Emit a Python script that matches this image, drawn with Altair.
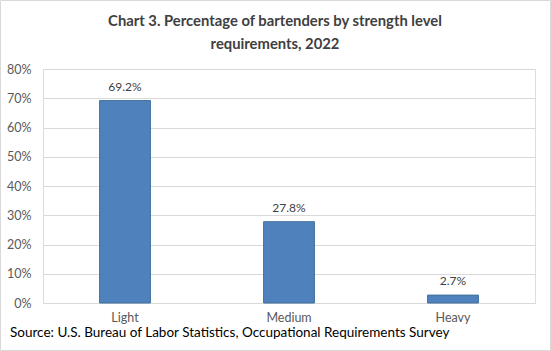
import altair as alt
import pandas as pd

categories = ["Light", "Medium", "Heavy"]
values = [69.2, 27.8, 2.7]
labels = ["69.2%", "27.8%", "2.7%"]
title_lines = ["Chart 3. Percentage of bartenders by strength level", "requirements, 2022"]
source_text = "Source: U.S. Bureau of Labor Statistics, Occupational Requirements Survey"

df = pd.DataFrame({"cat": categories, "val": [v / 100 for v in values], "lab": labels})
FONT = "Lato"

xenc = alt.X("cat:N", sort=categories, title=None,
             scale=alt.Scale(paddingInner=0.69, paddingOuter=0.345),
             axis=alt.Axis(labelAngle=0, labelFont=FONT, labelFontSize=12.5, labelColor="#595959",
                           ticks=False, domainColor="#d9d9d9", labelPadding=8))
yenc = alt.Y("val:Q", title=None,
             scale=alt.Scale(domain=[0, 0.8]),
             axis=alt.Axis(format=".0%", values=[i / 10 for i in range(9)], labelFont=FONT,
                           labelFontSize=12.5, labelColor="#595959", ticks=False, domain=False,
                           gridColor="#d9d9d9", labelPadding=12, labelOverlap=False))

base = alt.Chart(df)
bars = base.mark_bar(color="#4f81bd", stroke="#41719c", strokeWidth=1).encode(x=xenc, y=yenc)
text = base.mark_text(font=FONT, fontSize=12, color="#404040", baseline="bottom", dy=-7).encode(
    x=xenc, y=yenc, text="lab:N"
)
source = alt.Chart(pd.DataFrame({"t": [source_text]})).mark_text(
    font=FONT, fontSize=13.5, color="#000000", align="left", baseline="middle"
).encode(x=alt.value(-33), y=alt.value(264), text="t:N")

def title_line(s, ypix):
    return alt.Chart(pd.DataFrame({"t": [s]})).mark_text(
        font=FONT, fontSize=14.8, fontWeight="bold", color="#404040", align="center", baseline="middle"
    ).encode(x=alt.value(232), y=alt.value(ypix), text="t:N")

t1 = title_line(title_lines[0], -47)
t2 = title_line(title_lines[1], -24)
border = alt.Chart(pd.DataFrame({"a": [0]})).mark_rect(fill=None, stroke="#d9d9d9", strokeWidth=1).encode(
    x=alt.value(-42.5), x2=alt.value(507.5), y=alt.value(-68.5), y2=alt.value(281.5)
)

chart = alt.layer(bars, text, source, t1, t2, border).properties(
    width=492, height=234,
    autosize=alt.AutoSizeParams(type="none"),
    padding={"left": 43, "top": 69, "right": 16, "bottom": 48},
).configure_view(stroke=None).configure(background="white")

chart.save("out.html", embed_options={"renderer": "svg", "actions": False})
